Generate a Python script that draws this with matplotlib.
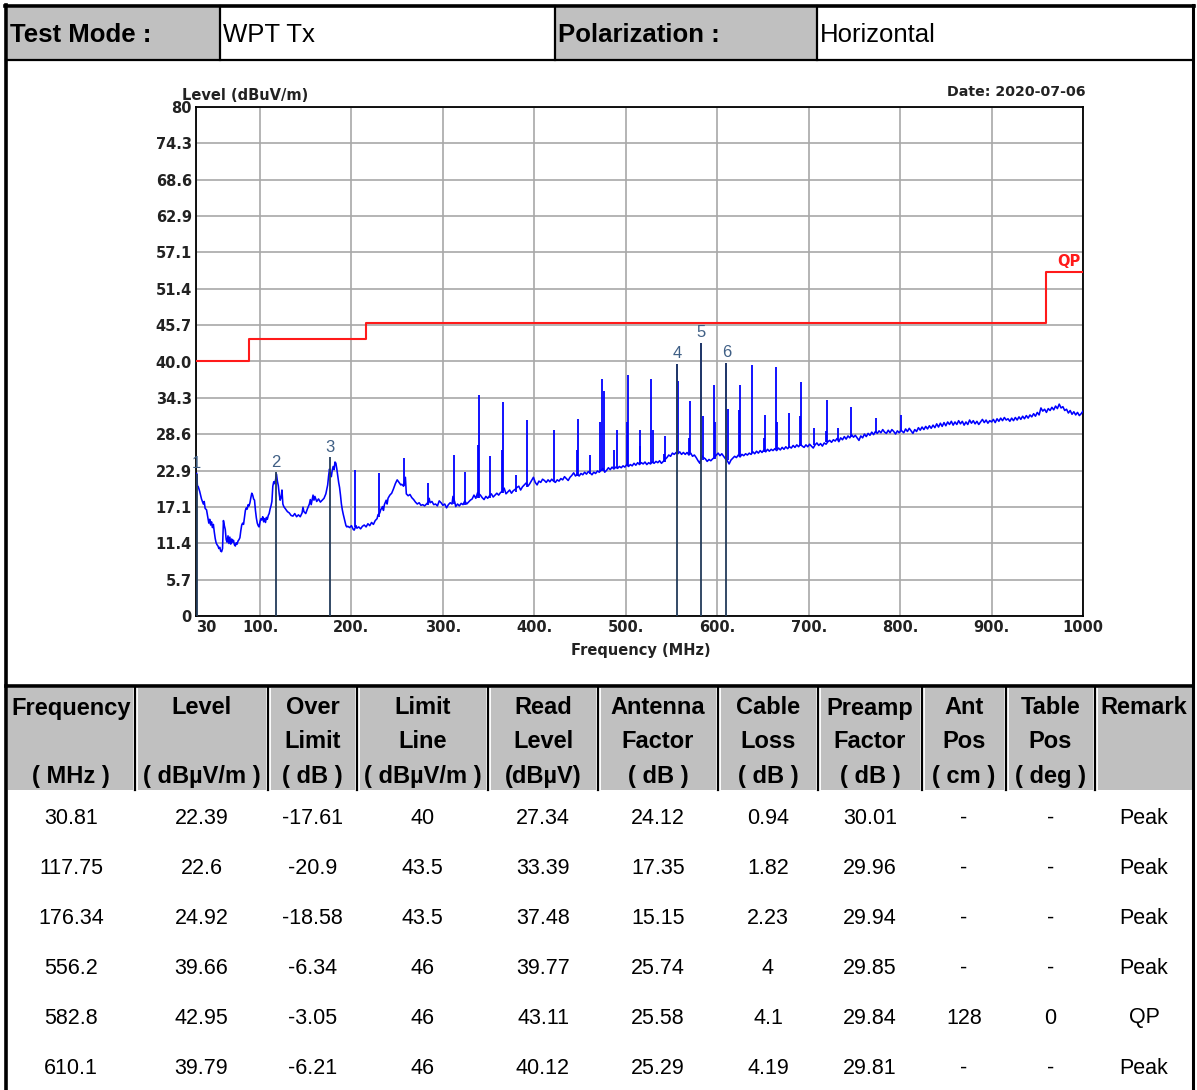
import matplotlib
matplotlib.use("Agg")
import matplotlib.pyplot as plt
from matplotlib.patches import Rectangle

plt.rcParams['font.family'] = ['Liberation Sans', 'DejaVu Sans']

W, H = 1197, 1090

# report header
head_texts = ['Test Mode :', 'WPT Tx', 'Polarization :', 'Horizontal']

# QP limit line (MHz, dBuV/m)
limit_freq = [30, 88, 216, 960, 1000]
limit_level = [40, 43.5, 46, 54, 54]

trace_freq = [
    30.8, 31.5, 32.5, 34, 36, 38, 39, 40, 41.5, 43, 44, 45, 46, 47, 48, 49, 50, 51, 52, 53,
    54, 55, 56, 57, 58, 59, 60, 61, 62, 63, 64, 65, 66, 67, 68, 69, 70, 71, 72, 73,
    74, 75, 76, 77, 78, 79, 80, 81, 82, 83, 84, 85, 86, 87, 88, 89, 90, 91, 92, 93,
    94, 95, 96, 97, 98, 99, 100, 101, 102, 103, 104, 105, 106, 107, 108, 109, 110, 111, 112, 113,
    114, 115, 116, 117, 118, 119, 120, 121, 122, 123, 124, 125, 126, 127, 128, 130, 132, 134, 136, 138,
    140, 142, 144, 146, 147, 148, 150, 152, 154, 155, 156, 158, 159, 160, 162, 164, 166, 168, 170, 172,
    174, 175, 176, 177, 178, 179, 180, 181, 182, 183, 184, 185, 186, 187, 188, 189, 190, 191, 192, 193,
    194, 195, 196, 198, 200, 202, 203, 205, 206, 208, 210, 212, 214, 216, 218, 220, 222, 224, 226, 228,
    229, 231, 232, 234, 235, 236, 238, 239, 240, 242, 244, 246, 248, 250, 252, 254, 255, 257, 259, 260,
    262, 264, 266, 268, 270, 272, 274, 276, 278, 280, 282, 284, 285, 286, 288, 290, 292, 294, 296, 298,
    300, 302, 304, 306, 308, 310, 311, 313, 314, 316, 318, 320, 322, 324, 326, 328, 330, 332, 334, 336,
    338, 341, 343, 345, 347, 349, 351, 353, 355, 357, 359, 361, 363, 365, 367, 369, 371, 373, 375, 377,
    379, 381, 383, 385, 387, 389, 391, 393, 395, 397, 399, 401, 403, 405, 407, 409, 411, 413, 415, 417,
    419, 421, 423, 425, 427, 429, 431, 433, 435, 437, 439, 441, 443, 445, 447, 449, 451, 453, 455, 457,
    459, 461, 463, 465, 467, 469, 471, 473, 475, 477, 479, 481, 483, 485, 487, 489, 491, 493, 495, 497,
    499, 501, 503, 505, 507, 509, 511, 513, 515, 517, 519, 521, 523, 525, 527, 529, 531, 533, 535, 537,
    539, 541, 543, 545, 547, 549, 551, 553, 555, 557, 559, 561, 563, 565, 567, 569, 571, 573, 575, 577,
    579, 581, 583, 585, 587, 589, 591, 593, 595, 597, 599, 601, 603, 605, 607, 609, 611, 613, 615, 617,
    619, 621, 623, 625, 627, 629, 631, 633, 635, 637, 639, 641, 643, 645, 647, 649, 651, 653, 655, 657,
    659, 661, 663, 665, 667, 669, 671, 673, 675, 677, 679, 681, 683, 685, 687, 689, 691, 693, 695, 697,
    699, 701, 703, 705, 707, 709, 711, 713, 715, 717, 719, 721, 723, 725, 727, 729, 731, 733, 735, 737,
    739, 741, 743, 745, 747, 749, 751, 753, 755, 757, 759, 761, 763, 765, 767, 769, 771, 773, 775, 777,
    779, 781, 783, 785, 787, 789, 791, 793, 795, 797, 799, 801, 804, 806, 808, 810, 812, 814, 816, 818,
    820, 822, 824, 826, 828, 830, 832, 834, 836, 838, 840, 842, 844, 846, 848, 850, 852, 854, 856, 858,
    860, 862, 864, 866, 868, 870, 872, 874, 876, 878, 880, 882, 884, 886, 888, 890, 892, 894, 896, 898,
    900, 902, 904, 906, 908, 910, 912, 914, 916, 918, 920, 922, 924, 926, 928, 930, 932, 934, 936, 938,
    940, 942, 944, 946, 948, 950, 952, 954, 956, 958, 960, 962, 964, 966, 968, 970, 972, 974, 976, 978,
    980, 982, 984, 986, 988, 990, 992, 994, 996, 998, 1000,
]
trace_level = [
    22.4, 20.5, 20.3, 19.6, 18.4, 17.6, 18.0, 16.9, 16.7, 15.4, 14.6, 15.2, 14.3, 14.8, 13.9, 14.4, 13.2, 12.2, 11.5, 11.2,
    11.0, 10.6, 10.8, 10.2, 10.1, 10.6, 15.0, 14.2, 13.6, 12.0, 11.6, 12.6, 11.4, 12.4, 11.3, 12.1, 11.6, 11.9, 11.2, 11.0,
    11.5, 11.3, 11.8, 12.0, 12.3, 13.4, 14.3, 14.6, 14.4, 15.5, 16.6, 17.0, 16.8, 17.5, 17.3, 17.8, 18.6, 19.3, 19.0, 18.4,
    18.2, 16.6, 15.4, 14.6, 14.2, 14.0, 14.8, 15.3, 15.1, 15.6, 14.8, 15.3, 14.7, 15.5, 15.2, 15.8, 16.1, 16.8, 17.3, 18.0,
    20.4, 21.1, 20.8, 21.4, 22.3, 21.2, 20.5, 19.2, 18.2, 18.6, 19.8, 17.6, 17.2, 17.0, 16.8, 16.4, 16.2, 15.8, 15.7, 16.1,
    15.6, 15.9, 15.6, 16.2, 17.1, 16.4, 16.1, 16.9, 17.6, 18.3, 17.5, 19.0, 18.2, 18.8, 18.0, 18.4, 17.9, 18.2, 18.5, 19.2,
    20.6, 22.0, 23.1, 22.4, 21.9, 22.9, 23.5, 23.0, 24.2, 24.0, 23.1, 22.0, 21.0, 20.2, 19.0, 17.6, 16.7, 16.0, 15.4, 14.8,
    14.2, 14.0, 14.1, 13.9, 14.2, 13.6, 13.5, 14.2, 13.8, 14.0, 13.7, 14.1, 14.3, 14.0, 14.5, 14.2, 14.7, 14.4, 15.0, 15.3,
    15.9, 16.2, 16.7, 17.2, 16.6, 17.5, 18.2, 17.6, 18.5, 19.0, 19.3, 20.0, 20.8, 21.4, 21.0, 20.6, 20.7, 20.4, 21.8, 19.2,
    18.9, 19.1, 18.6, 18.3, 17.9, 17.6, 17.8, 17.4, 17.5, 17.3, 17.6, 17.9, 18.5, 17.8, 18.0, 17.5, 17.6, 17.3, 18.1, 17.8,
    17.4, 17.6, 17.0, 17.5, 17.8, 17.6, 18.8, 17.9, 17.2, 17.6, 17.3, 17.7, 17.5, 18.1, 17.6, 17.9, 18.2, 18.4, 19.0, 18.5,
    19.4, 19.0, 18.6, 18.3, 18.8, 18.5, 18.9, 19.2, 18.7, 19.0, 19.3, 19.0, 19.4, 19.6, 20.1, 19.2, 19.5, 19.8, 19.3, 19.7,
    19.9, 20.2, 20.4, 19.8, 20.3, 20.6, 20.9, 20.4, 20.8, 21.3, 21.8, 21.0, 20.6, 21.2, 21.0, 21.5, 21.3, 21.0, 21.4, 21.1,
    21.5, 21.2, 21.0, 21.4, 21.2, 21.6, 21.4, 21.9, 21.6, 21.3, 21.8, 22.1, 22.5, 22.0, 22.3, 22.0, 22.4, 22.2, 22.6, 22.3,
    22.7, 22.5, 22.2, 22.6, 22.4, 22.8, 22.6, 22.9, 23.2, 22.6, 22.9, 23.3, 23.0, 23.4, 23.1, 23.4, 23.2, 23.5, 23.3, 23.6,
    23.4, 23.8, 23.5, 23.8, 23.6, 24.0, 23.7, 24.1, 23.8, 24.1, 23.9, 24.2, 23.8, 24.1, 23.9, 24.2, 24.0, 24.3, 24.1, 24.4,
    24.0, 24.3, 24.6, 24.9, 25.3, 25.1, 25.6, 25.4, 25.7, 25.5, 25.8, 25.4, 25.7, 25.4, 25.7, 25.3, 25.6, 25.1, 25.3, 24.9,
    24.4, 24.0, 25.2, 24.9, 24.7, 24.3, 24.6, 24.4, 24.7, 24.9, 25.3, 25.6, 25.2, 25.5, 25.1, 24.7, 24.4, 23.9, 24.5, 24.8,
    25.1, 24.9, 25.3, 25.0, 25.4, 25.2, 25.5, 25.3, 25.6, 25.4, 25.8, 25.5, 25.9, 25.6, 26.0, 25.7, 26.1, 25.8, 26.2, 25.9,
    26.2, 26.0, 26.3, 26.0, 26.4, 26.1, 26.5, 26.2, 26.6, 26.3, 26.6, 26.4, 26.8, 26.5, 26.9, 26.6, 27.0, 26.7, 26.5, 26.9,
    26.6, 27.0, 26.7, 26.4, 26.9, 27.2, 26.8, 27.1, 26.7, 27.2, 27.0, 27.4, 27.6, 27.3, 27.7, 27.5, 27.9, 27.4, 28.0, 27.7,
    28.2, 27.8, 28.3, 28.0, 28.5, 28.1, 28.4, 28.0, 27.6, 28.3, 28.0, 28.6, 28.2, 28.7, 28.4, 28.9, 28.5, 29.0, 28.7, 29.1,
    28.8, 29.3, 28.9, 28.7, 29.2, 28.8, 29.3, 29.0, 28.6, 29.1, 28.8, 29.2, 28.8, 29.4, 29.0, 29.5, 29.1, 28.7, 29.3, 29.0,
    29.6, 29.2, 29.7, 29.3, 29.8, 29.4, 29.9, 29.5, 30.0, 29.6, 30.2, 29.7, 30.3, 29.8, 30.4, 29.9, 30.5, 30.1, 30.6, 30.0,
    30.5, 30.1, 30.7, 30.2, 30.6, 30.0, 30.5, 30.1, 30.8, 30.3, 30.7, 30.2, 30.6, 30.1, 30.5, 30.9, 30.4, 30.8, 30.3, 30.7,
    30.5, 30.9, 30.4, 31.0, 30.6, 31.1, 30.7, 31.2, 30.8, 31.0, 30.6, 31.1, 30.7, 31.2, 30.8, 31.3, 30.9, 31.4, 31.0, 31.5,
    31.1, 31.6, 31.3, 31.8, 31.4, 32.0, 31.6, 32.7, 32.2, 32.5, 32.0, 32.6, 32.3, 32.8, 32.4, 33.0, 32.6, 33.3, 32.7, 32.9,
    32.3, 32.5, 31.9, 32.3, 31.7, 32.1, 31.6, 32.0, 31.5, 31.8, 32.2,
]

# narrow emissions on top of the trace: freq, foot, top
spike_freq = [204, 230.5, 258, 284, 312, 324.5, 338, 340, 352, 365, 366, 380, 392.5,
              421, 447, 448, 461, 472, 474.5, 476, 487, 490, 501, 502, 515, 516, 528, 529.5, 542, 543,
              556.2, 557.5, 569, 570, 582.8, 584, 596.5, 597.5, 610.1, 611.5, 624, 625, 638, 651, 652,
              664, 665, 678.5, 691, 692, 706, 719, 720, 732, 746, 774, 800.5]
spike_foot = [14.0, 15.6, 20.5, 17.5, 17.6, 17.5, 18.5, 18.5, 18.5, 19.3, 19.3, 19.5, 20.3,
              21.2, 22.0, 22.0, 22.3, 22.8, 22.8, 22.8, 23.1, 23.2, 23.5, 23.5, 23.9, 23.9, 24.0, 24.0, 24.2, 24.2,
              25.5, 25.5, 25.4, 25.4, 24.5, 24.5, 24.7, 24.7, 24.5, 24.5, 25.2, 25.2, 25.6, 25.8, 25.8,
              26.2, 26.2, 26.5, 26.7, 26.7, 26.8, 27.3, 27.3, 27.7, 28.2, 28.8, 29.0]
spike_top = [23.0, 22.4, 24.8, 20.9, 25.3, 22.7, 26.9, 34.7, 25.1, 26.1, 33.7, 22.2, 30.8,
             29.2, 26.1, 30.9, 25.3, 30.5, 37.2, 35.3, 26.1, 29.3, 30.5, 37.9, 26.7, 29.2, 37.2, 29.3, 25.5, 28.3,
             39.66, 37.0, 28.0, 33.8, 42.95, 31.5, 36.3, 30.5, 39.79, 32.6, 32.3, 36.3, 39.4, 28.0, 31.6,
             39.2, 30.5, 31.9, 31.5, 36.7, 29.5, 29.0, 33.9, 29.5, 32.9, 31.1, 31.6]

# marked points
mark_no = ['1', '2', '3', '4', '5', '6']
mark_freq = [30.81, 117.75, 176.34, 556.2, 582.8, 610.1]
mark_level = [22.39, 22.6, 24.92, 39.66, 42.95, 39.79]

# axis labels
y_ticks = [i * 80 / 14 for i in range(15)]
y_labels = ['0', '5.7', '11.4', '17.1', '22.9', '28.6', '34.3', '40.0', '45.7',
            '51.4', '57.1', '62.9', '68.6', '74.3', '80']
x_ticks = [30, 100, 200, 300, 400, 500, 600, 700, 800, 900, 1000]
x_labels = ['30', '100.', '200.', '300.', '400.', '500.', '600.', '700.', '800.', '900.', '1000']

# result table
col_head1 = ['Frequency', 'Level', 'Over', 'Limit', 'Read', 'Antenna', 'Cable', 'Preamp', 'Ant', 'Table', 'Remark']
col_head2 = ['', '', 'Limit', 'Line', 'Level', 'Factor', 'Loss', 'Factor', 'Pos', 'Pos', '']
col_head3 = ['( MHz )', '( dBµV/m )', '( dB )', '( dBµV/m )', '(dBµV)', '( dB )', '( dB )', '( dB )', '( cm )', '( deg )', '']
over_limit = [-17.61, -20.9, -18.58, -6.34, -3.05, -6.21]
limit_line = [40, 43.5, 43.5, 46, 46, 46]
read_level = [27.34, 33.39, 37.48, 39.77, 43.11, 40.12]
antenna_factor = [24.12, 17.35, 15.15, 25.74, 25.58, 25.29]
cable_loss = [0.94, 1.82, 2.23, 4, 4.1, 4.19]
preamp_factor = [30.01, 29.96, 29.94, 29.85, 29.84, 29.81]
ant_pos = ['-', '-', '-', '-', '128', '-']
table_pos = ['-', '-', '-', '-', '0', '-']
remark = ['Peak', 'Peak', 'Peak', 'Peak', 'QP', 'Peak']

GRAY = '#c0c0c0'
CHART_FONT = 'DejaVu Sans'
col_edges = [8, 135, 268, 357, 488, 598, 718, 818, 922, 1006, 1095, 1193]


def fmt(v):
    return '%g' % v


fig = plt.figure(figsize=(W / 100, H / 100), dpi=100)

# page layer in pixel coordinates
bg = fig.add_axes([0, 0, 1, 1])
bg.set_xlim(0, W)
bg.set_ylim(H, 0)
bg.axis('off')

# header row
bg.add_patch(Rectangle((8, 8), 211, 51, fc=GRAY, ec='none'))
bg.add_patch(Rectangle((556, 8), 260, 51, fc=GRAY, ec='none'))
for x in [220, 555, 817]:
    bg.plot([x, x], [6, 60], color='black', lw=1.6)
bg.text(10, 35, head_texts[0], fontsize=18.5, fontweight='bold', va='center')
bg.text(223, 35, head_texts[1], fontsize=18.5, va='center')
bg.text(558, 35, head_texts[2], fontsize=18.5, fontweight='bold', va='center')
bg.text(820, 35, head_texts[3], fontsize=18.5, va='center')

# table header
bg.add_patch(Rectangle((8, 688), 1184, 102, fc=GRAY, ec='none'))
for x in col_edges[1:-1]:
    bg.plot([x, x], [688, 790], color='white', lw=3.5)
    bg.plot([x, x], [688, 790], color='black', lw=1.6)
centers = [(a + b) / 2 for a, b in zip(col_edges[:-1], col_edges[1:])]
centers[0] = 71
for cx, t1, t2, t3 in zip(centers, col_head1, col_head2, col_head3):
    bg.text(cx, 708, t1, fontsize=17, fontweight='bold', ha='center', va='center')
    bg.text(cx, 742, t2, fontsize=17, fontweight='bold', ha='center', va='center')
    bg.text(cx, 776, t3, fontsize=17, fontweight='bold', ha='center', va='center')

# table body
rows = zip(mark_freq, mark_level, over_limit, limit_line, read_level, antenna_factor,
           cable_loss, preamp_factor, ant_pos, table_pos, remark)
for i, row in enumerate(rows):
    y = 818 + 50 * i
    for cx, v in zip(centers, row):
        s = v if isinstance(v, str) else fmt(v)
        bg.text(cx, y, s, fontsize=15.5, ha='center', va='center')

# frame lines
bg.plot([5, 1194], [6, 6], color='black', lw=2.6)
bg.plot([6, 6], [5, H], color='black', lw=2.6)
bg.plot([1193, 1193], [5, H], color='black', lw=2.2)
bg.plot([6, 1193], [60, 60], color='black', lw=1.6)
bg.plot([6, 1193], [686, 686], color='black', lw=2.6)

# chart texts outside the plot box
bg.text(182, 95, 'Level (dBuV/m)', fontsize=10.5, fontweight='bold', va='center',
        color='#222222', family=CHART_FONT)
bg.text(1086, 92, 'Date: 2020-07-06', fontsize=10.2, fontweight='bold', ha='right', va='center',
        color='#222222', family=CHART_FONT)
bg.text(641, 651, 'Frequency (MHz)', fontsize=10.5, fontweight='bold', ha='center', va='center',
        color='#222222', family=CHART_FONT)

# spectrum chart
ax = fig.add_axes([196 / W, (H - 616) / H, 887 / W, 509 / H])
ax.set_xlim(30, 1000)
ax.set_ylim(0, 80)
ax.set_xticks(x_ticks)
ax.set_xticklabels(x_labels)
ax.set_yticks(y_ticks)
ax.set_yticklabels(y_labels)
ax.tick_params(length=0, labelsize=10.5, pad=3, colors='#222222')
for lab in ax.get_xticklabels() + ax.get_yticklabels():
    lab.set_fontweight('bold')
    lab.set_family(CHART_FONT)
ax.get_xticklabels()[0].set_horizontalalignment('left')
ax.grid(True, color='#a8a8a8', lw=1.2)
ax.set_axisbelow(True)
for sp in ax.spines.values():
    sp.set_linewidth(1.3)

ax.step(limit_freq, limit_level, where='post', color='#ff1a1a', lw=1.5, zorder=3)
ax.text(997, 54.6, 'QP', color='#ff1a1a', fontsize=10.5, fontweight='bold', ha='right', va='bottom',
        family=CHART_FONT)

ax.plot(trace_freq, trace_level, color='#0000ff', lw=1.15, zorder=4)
ax.vlines(spike_freq, spike_foot, spike_top, color='#0000ff', lw=1.3, zorder=4)

ax.vlines(mark_freq, 0, mark_level, color='#233c5a', lw=1.3, zorder=5)
for n, f, l in zip(mark_no, mark_freq, mark_level):
    ax.text(f, l + 0.4, n, color='#3f5f85', fontsize=12, ha='center', va='bottom', zorder=6)

fig.savefig('out.png', dpi=100)
